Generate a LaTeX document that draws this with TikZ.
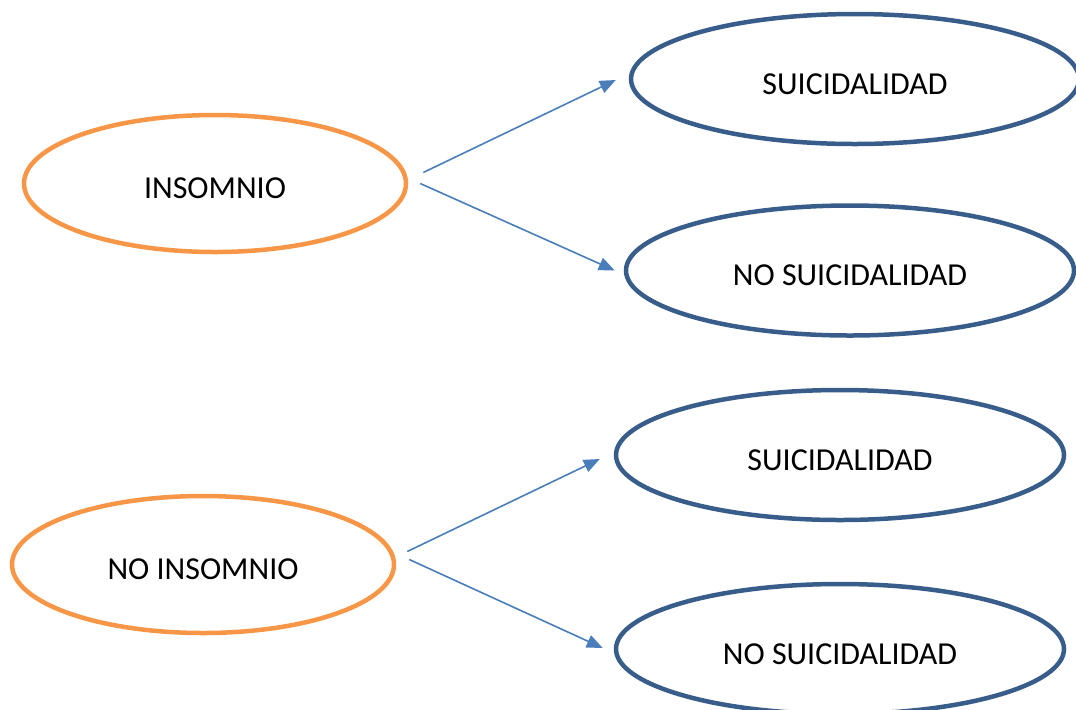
\documentclass[tikz,border=0pt]{standalone}
\usepackage{fontspec}
\setmainfont{Carlito}
\usetikzlibrary{shapes.geometric, arrows.meta}

\definecolor{insorange}{HTML}{F79646}
\definecolor{suiblue}{HTML}{385D8A}
\definecolor{arrblue}{HTML}{4A7EBB}

\begin{document}
\begin{tikzpicture}[
  x=0.5pt, y=-0.5pt,
  cause/.style={ellipse, draw=insorange, line width=2.25pt, inner sep=0pt,
                minimum width=191pt, minimum height=68.5pt,
                font=\fontsize{16}{19}\selectfont,
                text height=14.5pt, text depth=0pt},
  outc/.style={ellipse, draw=suiblue, line width=2.25pt, inner sep=0pt,
               minimum width=224pt, minimum height=65pt,
               font=\fontsize{16}{19}\selectfont,
               text height=15pt, text depth=0pt},
  arr/.style={-{Triangle[length=8pt, width=6.5pt]}, arrblue, line width=0.8pt},
]
\useasboundingbox (0,0) rectangle (1076,709);

% ---- Upper group: insomnio -------------------------------------------------
\node[cause] (ins) at (215, 183.5) {INSOMNIO};
\node[outc] (sui1) at (855, 79) {SUICIDALIDAD};
\node[outc] (nosui1) at (850, 270.5) {NO SUICIDALIDAD};

\draw[arr] ([xshift=7.5pt, yshift=5.5pt]ins.east)
  -- ([xshift=-6.5pt, yshift=-0.5pt]sui1.west);
\draw[arr] ([xshift=6pt]ins.east)
  -- ([xshift=-4.5pt]nosui1.west);

% ---- Lower group: no insomnio ----------------------------------------------
\node[cause] (noins) at (203, 564.5) {NO INSOMNIO};
\node[outc] (sui2) at (840, 455) {SUICIDALIDAD};
\node[outc] (nosui2) at (840, 649) {NO SUICIDALIDAD};

\draw[arr] ([xshift=5.5pt, yshift=6.5pt]noins.east)
  -- ([xshift=-7pt, yshift=-2pt]sui2.west);
\draw[arr] ([xshift=6.5pt, yshift=2.5pt]noins.east)
  -- ([xshift=-5.5pt, yshift=0.5pt]nosui2.west);

\end{tikzpicture}
\end{document}
